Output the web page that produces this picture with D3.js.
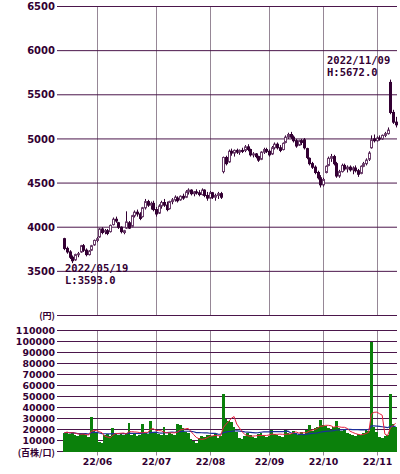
<!DOCTYPE html>
<html>
<head>
<meta charset="utf-8">
<script src="https://cdnjs.cloudflare.com/ajax/libs/d3/7.8.5/d3.min.js"></script>
<style>
body { margin: 0; background: #fff; }
svg text { font-family: "DejaVu Sans", sans-serif; font-weight: bold; fill: #330033; }
</style>
</head>
<body>
<div id="vis"></div>
<script>
// Candlestick + volume chart, 2022/05/16 - 2022/11/11

/* *************************** Data ***************************** */

// Trading days (MM/DD), one per candle
var dates = [
    '05/16','05/17','05/18','05/19','05/20','05/23','05/24','05/25','05/26','05/27','05/30','05/31',
    '06/01','06/02','06/03','06/06','06/07','06/08','06/09','06/10','06/13','06/14','06/15','06/16','06/17','06/20','06/21','06/22','06/23','06/24','06/27','06/28','06/29','06/30',
    '07/01','07/04','07/05','07/06','07/07','07/08','07/11','07/12','07/13','07/14','07/15','07/19','07/20','07/21','07/22','07/25','07/26','07/27','07/28','07/29',
    '08/01','08/02','08/03','08/04','08/05','08/08','08/09','08/10','08/12','08/15','08/16','08/17','08/18','08/19','08/22','08/23','08/24','08/25','08/26','08/29','08/30','08/31',
    '09/01','09/02','09/05','09/06','09/07','09/08','09/09','09/12','09/13','09/14','09/15','09/16','09/20','09/21','09/22','09/26','09/27','09/28','09/29','09/30',
    '10/03','10/04','10/05','10/06','10/07','10/11','10/12','10/13','10/14','10/17','10/18','10/19','10/20','10/21','10/24','10/25','10/26','10/27','10/28','10/31',
    '11/01','11/02','11/04','11/07','11/08','11/09','11/10','11/11'
];

var open = [
    3870,3760,3720,3660,3630,3690,3720,3790,3740,3690,3740,3800,
    3850,3890,3980,3950,3960,3950,4030,4090,4050,4000,3940,3990,4050,4010,4130,4170,4150,4120,4220,4290,4250,4270,
    4200,4160,4240,4280,4250,4210,4290,4310,4330,4310,4350,4340,4400,4420,4380,4400,4390,4370,4420,4360,
    4330,4390,4340,4360,4380,4630,4790,4740,4860,4840,4870,4850,4870,4870,4910,4880,4820,4830,4800,4770,4850,4880,
    4860,4830,4900,4940,4900,4880,4960,5020,5050,5020,4980,4930,4980,4990,4890,4780,4720,4680,4620,4560,
    4480,4620,4700,4780,4800,4720,4580,4630,4700,4660,4680,4650,4670,4640,4610,4690,4720,4770,4900,5000,
    4980,5010,5000,5040,5060,5640,5300,5190
];

var high = [
    3880,3780,3740,3680,3700,3720,3800,3810,3760,3740,3800,3860,
    3890,3990,4000,3980,3980,4030,4110,4120,4060,4010,3970,4180,4070,4140,4190,4200,4170,4230,4320,4310,4290,4300,
    4230,4260,4300,4320,4290,4300,4330,4360,4350,4360,4380,4420,4440,4430,4410,4430,4420,4440,4430,4400,
    4410,4400,4380,4400,4400,4800,4810,4880,4890,4880,4890,4880,4900,4930,4940,4890,4850,4840,4810,4860,4900,4900,
    4880,4920,4960,4960,4930,4960,5040,5070,5080,5040,5000,4990,5000,5010,4900,4790,4740,4700,4640,4590,
    4560,4700,4800,4830,4820,4740,4650,4720,4720,4700,4700,4690,4700,4660,4700,4740,4780,4860,5040,5050,
    5030,5040,5050,5080,5130,5672,5330,5250
];

var low = [
    3740,3700,3640,3593,3620,3660,3710,3720,3670,3680,3730,3790,
    3830,3880,3920,3920,3910,3940,4020,4050,3980,3930,3920,3980,3980,4000,4110,4120,4080,4110,4200,4230,4200,4180,
    4120,4150,4210,4230,4180,4200,4260,4290,4280,4300,4310,4330,4370,4360,4350,4370,4350,4360,4340,4300,
    4320,4320,4300,4320,4320,4610,4700,4730,4810,4800,4830,4820,4840,4850,4860,4800,4790,4780,4740,4760,4830,4840,
    4800,4820,4880,4880,4850,4870,4950,5000,5000,4960,4900,4920,4930,4880,4770,4700,4660,4600,4540,4450,
    4460,4610,4690,4740,4700,4560,4560,4620,4640,4620,4630,4600,4620,4570,4600,4680,4700,4750,4890,4960,
    4970,4980,4990,5020,5050,5280,5170,5130
];

var close = [
    3760,3720,3660,3620,3690,3700,3790,3740,3690,3730,3790,3850,
    3870,3980,3940,3960,3930,4020,4090,4070,4000,3950,3960,4060,3990,4130,4170,4150,4100,4220,4290,4250,4270,4200,
    4150,4240,4280,4250,4200,4290,4310,4340,4300,4350,4330,4400,4420,4380,4400,4390,4370,4420,4360,4330,
    4390,4340,4360,4380,4340,4790,4720,4860,4840,4870,4850,4870,4860,4910,4880,4820,4830,4800,4760,4850,4880,4860,
    4820,4900,4940,4900,4870,4950,5020,5050,5020,4980,4920,4980,4960,4900,4790,4720,4680,4620,4560,4480,
    4540,4690,4780,4800,4720,4580,4630,4700,4660,4680,4650,4670,4640,4600,4690,4720,4760,4840,4990,4980,
    5010,5000,5040,5060,5100,5300,5190,5160
];

// Volume (in hundreds of shares)
var volume = [
    17000,18000,16000,17500,15000,14000,16000,17000,15000,13000,31000,19000,
    18000,9000,8000,15000,16000,14000,21000,16000,15000,17000,15000,17000,26000,15000,16000,14000,15000,25000,17000,16000,28000,18000,
    17000,16000,15000,22000,15000,17000,16000,15000,25000,24000,21000,18000,17000,11000,10000,8000,12000,14000,13000,15000,
    15000,14000,16000,12000,14000,52000,30000,28000,27000,22000,18000,12000,11000,14000,17000,15000,13000,12000,16000,17000,15000,13000,
    14000,20000,16000,15000,14000,13000,20000,17000,16000,19000,17000,15000,18000,16000,20000,24000,19000,21000,22000,29000,
    24000,23000,21000,20000,22000,28000,21000,19000,20000,17000,16000,15000,14000,16000,15000,17000,20000,19000,100000,22000,
    18000,13000,12000,14000,15000,52000,25000,22000
];

// Axis ticks
var priceTicks = [3500, 4000, 4500, 5000, 5500, 6000, 6500];
var volumeTicks = [10000, 20000, 30000, 40000, 50000, 60000, 70000, 80000, 90000, 100000, 110000];
var monthLabels = ['22/06', '22/07', '22/08', '22/09', '22/10', '22/11'];
var monthStarts = ['06/01', '07/01', '08/01', '09/01', '10/03', '11/01'];

// Extremes shown as notes
var lowNote = ['2022/05/19', 'L:3593.0'];
var highNote = ['2022/11/09', 'H:5672.0'];

/* *************************** Settings ***************************** */

var width = 400;
var height = 474;

var plotLeft = 63;
var plotRight = 397;

var gridColor = '#4b164b';
var monthColor = '#968796';
var candleColor = '#330033';

var svg = d3.select('#vis')
    .append('svg')
    .attr('width', width)
    .attr('height', height);

var data = dates.map(function(d, i) {
    return {date: d, o: open[i], h: high[i], l: low[i], c: close[i], v: volume[i]};
});

/* *************************** Scales ***************************** */

var xScale = d3.scaleBand()
    .domain(dates)
    .range([plotLeft, plotRight])
    .padding(0);

var xMid = function(d) {
    return xScale(d) + xScale.bandwidth() / 2;
};

var yPrice = d3.scaleLinear()
    .domain([3000, 6500])
    .range([315.5, 6.5]);

var yVol = d3.scaleLinear()
    .domain([0, 110000])
    .range([451.5, 330.5]);

/* *************************** Grid ***************************** */

var grid = svg.append('g');

// Month lines in both panels
monthStarts.forEach(function(m) {
    var x = Math.round(xMid(m)) + 0.5;
    grid.append('line')
        .attr('x1', x).attr('x2', x)
        .attr('y1', yPrice(6500)).attr('y2', yPrice(3000))
        .attr('stroke', monthColor);
    grid.append('line')
        .attr('x1', x).attr('x2', x)
        .attr('y1', yVol(110000)).attr('y2', yVol(0) + 4)
        .attr('stroke', monthColor);
});

// Price horizontal lines (with short tick on the left)
grid.selectAll('.pline')
    .data([3000].concat(priceTicks))
    .enter().append('line')
    .attr('x1', plotLeft - 6).attr('x2', plotRight)
    .attr('y1', function(d) { return yPrice(d); })
    .attr('y2', function(d) { return yPrice(d); })
    .attr('stroke', gridColor);

grid.selectAll('.vline')
    .data([0].concat(volumeTicks))
    .enter().append('line')
    .attr('x1', plotLeft - 6).attr('x2', plotRight)
    .attr('y1', function(d) { return yVol(d); })
    .attr('y2', function(d) { return yVol(d); })
    .attr('stroke', gridColor);

/* *************************** Volume ***************************** */

// Bars snapped to whole pixels so neighbours touch
var barLeft = function(i) {
    return Math.round(plotLeft + i * xScale.step());
};

svg.append('g').selectAll('rect')
    .data(data)
    .enter().append('rect')
    .attr('x', function(d, i) { return barLeft(i); })
    .attr('width', function(d, i) { return barLeft(i + 1) - barLeft(i); })
    .attr('y', function(d) { return Math.round(yVol(d.v)); })
    .attr('height', function(d) { return Math.round(yVol(0)) - Math.round(yVol(d.v)); })
    .attr('shape-rendering', 'crispEdges')
    .attr('fill', '#0b800b');

// Moving averages of volume
var movingAvg = function(n) {
    return data.map(function(d, i) {
        var win = volume.slice(Math.max(0, i - n + 1), i + 1);
        return {date: d.date, v: d3.mean(win)};
    });
};

var volLine = d3.line()
    .x(function(d) { return xMid(d.date); })
    .y(function(d) { return yVol(d.v); });

svg.append('path')
    .datum(movingAvg(25))
    .attr('d', volLine)
    .attr('fill', 'none')
    .attr('stroke', '#1c2f9a')
    .attr('stroke-width', 1.2);

svg.append('path')
    .datum(movingAvg(5))
    .attr('d', volLine)
    .attr('fill', 'none')
    .attr('stroke', '#e8203c')
    .attr('stroke-width', 1);

/* *************************** Candles ***************************** */

var candles = svg.append('g').selectAll('g')
    .data(data)
    .enter().append('g');

candles.append('line')
    .attr('x1', function(d) { return Math.round(xMid(d.date)) + 0.5; })
    .attr('x2', function(d) { return Math.round(xMid(d.date)) + 0.5; })
    .attr('y1', function(d) { return yPrice(d.h); })
    .attr('y2', function(d) { return yPrice(d.l); })
    .attr('stroke', candleColor);

candles.append('rect')
    .attr('x', function(d) { return Math.round(xMid(d.date)) - 0.5; })
    .attr('width', 2)
    .attr('y', function(d) { return yPrice(Math.max(d.o, d.c)); })
    .attr('height', function(d) { return Math.max(1, Math.abs(yPrice(d.o) - yPrice(d.c))); })
    .attr('fill', function(d) { return d.c >= d.o ? '#ffffff' : candleColor; })
    .attr('stroke', function(d) { return d.c >= d.o ? '#6a3d6a' : candleColor; })
    .attr('stroke-width', 1);

/* *************************** Labels ***************************** */

svg.selectAll('.plabel')
    .data(priceTicks)
    .enter().append('text')
    .attr('x', 55)
    .attr('y', function(d) { return yPrice(d); })
    .attr('dy', '0.36em')
    .attr('text-anchor', 'end')
    .style('font-size', '10px')
    .text(function(d) { return d; });

svg.selectAll('.vlabel')
    .data(volumeTicks)
    .enter().append('text')
    .attr('x', 55)
    .attr('y', function(d) { return yVol(d); })
    .attr('dy', '0.36em')
    .attr('text-anchor', 'end')
    .style('font-size', '9.4px')
    .text(function(d) { return d; });

svg.append('text')
    .attr('x', 55)
    .attr('y', yPrice(3000))
    .attr('dy', '0.34em')
    .attr('text-anchor', 'end')
    .style('font-family', '"Noto Sans CJK JP", sans-serif')
    .style('font-size', '9px')
    .text('(円)');

svg.append('text')
    .attr('x', 55)
    .attr('y', yVol(0) + 1)
    .attr('dy', '0.34em')
    .attr('text-anchor', 'end')
    .style('font-family', '"Noto Sans CJK JP", sans-serif')
    .style('font-size', '9px')
    .text('(百株/口)');

svg.selectAll('.mlabel')
    .data(monthStarts)
    .enter().append('text')
    .attr('x', function(d) { return Math.round(xMid(d)) + 0.5; })
    .attr('y', 465)
    .attr('text-anchor', 'middle')
    .style('font-size', '9.4px')
    .text(function(d, i) { return monthLabels[i]; });

// High / low notes
var noteFont = '"DejaVu Sans Mono", monospace';

svg.append('g').selectAll('text')
    .data(lowNote)
    .enter().append('text')
    .attr('x', plotLeft + 2)
    .attr('y', function(d, i) { return 272 + i * 11.5; })
    .style('font-family', noteFont)
    .style('font-size', '10.5px')
    .text(function(d) { return d; });

svg.append('g').selectAll('text')
    .data(highNote)
    .enter().append('text')
    .attr('x', plotLeft + 264)
    .attr('y', function(d, i) { return 64 + i * 12; })
    .style('font-family', noteFont)
    .style('font-size', '10.5px')
    .text(function(d) { return d; });
</script>
</body>
</html>
